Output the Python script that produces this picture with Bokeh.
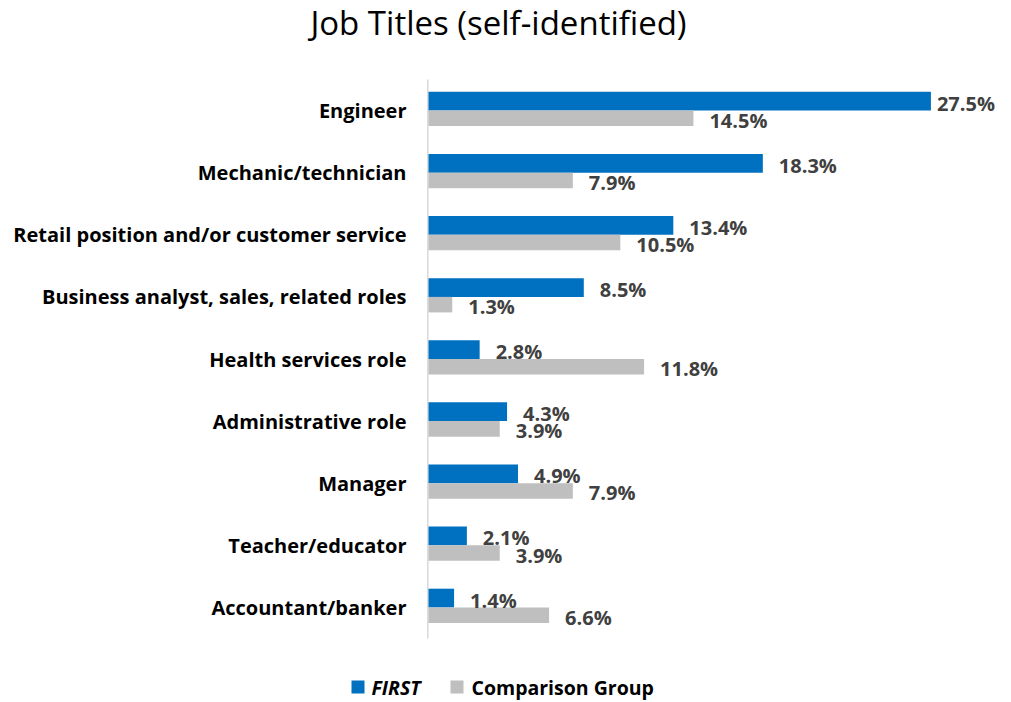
from bokeh.plotting import figure
from bokeh.models import Range1d, ColumnDataSource
from bokeh.transform import dodge
from bokeh.core.properties import value
from bokeh.embed import file_html
from bokeh.resources import INLINE

# ---- data ----
categories = [
    "Engineer",
    "Mechanic/technician",
    "Retail position and/or customer service",
    "Business analyst, sales, related roles",
    "Health services role",
    "Administrative role",
    "Manager",
    "Teacher/educator",
    "Accountant/banker",
]
first_pct = [27.5, 18.3, 13.4, 8.5, 2.8, 4.3, 4.9, 2.1, 1.4]
comparison_pct = [14.5, 7.9, 10.5, 1.3, 11.8, 3.9, 7.9, 3.9, 6.6]
series_names = ["FIRST", "Comparison Group"]
title_text = "Job Titles (self-identified)"

# ---- style / geometry ----
W, H = 1011, 702
FONT = "Open Sans"
BLUE = "#0070C0"
GRAY = "#BFBFBF"
LABEL_COLOR = "#404040"

X0_PX = 428          # pixel where 0 % lies
PX_PER_PCT = 18.27   # horizontal scale
TOP_PX, BOTTOM_PX = 79, 638   # plot-area extent
n = len(categories)
BAND_PX = (BOTTOM_PX - TOP_PX) / n


def px_to_x(px):
    return (px - X0_PX) / PX_PER_PCT


def py_to_y(py):
    return (BOTTOM_PX - py) / BAND_PX


BLUE_POS, BLUE_H = 0.151, 0.302
GRAY_POS, GRAY_H = -0.125, 0.25

src = ColumnDataSource(dict(
    cat=categories,
    pos=[n - 0.5 - i for i in range(n)],
    first=first_pct,
    comp=comparison_pct,
    first_lbl=[f"{v:.1f}%" for v in first_pct],
    comp_lbl=[f"{v:.1f}%" for v in comparison_pct],
    first_off=[6 if v > 25 else 16 for v in first_pct],
))

p = figure(width=W, height=H, x_range=Range1d(px_to_x(0), px_to_x(W)),
           y_range=Range1d(py_to_y(H), py_to_y(0)), x_axis_type=None, y_axis_type=None,
           output_backend="svg", toolbar_location=None, min_border=0)
p.grid.visible = False
p.outline_line_color = None

# axis line
p.segment(x0=[px_to_x(427.3)], y0=[0], x1=[px_to_x(427.3)], y1=[n],
          line_color="#D9D9D9", line_width=1.5)

# bars
r_blue = p.hbar(y=dodge("pos", BLUE_POS), right="first", left=0, height=BLUE_H,
                source=src, fill_color=BLUE, line_color=None)
r_gray = p.hbar(y=dodge("pos", GRAY_POS), right="comp", left=0, height=GRAY_H,
                source=src, fill_color=GRAY, line_color=None)

# data labels
p.text(x="first", y=dodge("pos", BLUE_POS), text="first_lbl", x_offset="first_off",
       y_offset=2, source=src, text_baseline="middle", text_align="left", text_font=value(FONT),
       text_font_size="20px", text_font_style="bold", text_color=LABEL_COLOR)
p.text(x="comp", y=dodge("pos", GRAY_POS), text="comp_lbl", x_offset=16,
       y_offset=2, source=src, text_baseline="middle", text_align="left", text_font=value(FONT),
       text_font_size="20px", text_font_style="bold", text_color=LABEL_COLOR)

# category labels (axis labels)
p.text(x=px_to_x(406), y="pos", text="cat", source=src, text_align="right",
       text_baseline="middle", text_font=value(FONT), text_font_size="20px",
       text_font_style="bold", text_color="#000000")

# title
p.text(x=[px_to_x(498)], y=[py_to_y(22)], text=[title_text], text_align="center",
       text_baseline="middle", text_font=value(FONT), text_font_size="33px",
       text_color="#000000")

# legend
leg_y = py_to_y(686.5)
p.rect(x=[px_to_x(357.5), px_to_x(456.5)], y=[leg_y, leg_y], width=13, height=13,
       width_units="screen", height_units="screen", fill_color=[BLUE, GRAY], line_color=None)
p.text(x=[px_to_x(371)], y=[leg_y], text=[series_names[0]], text_baseline="middle",
       text_align="left", text_font=value(FONT), text_font_size="19.5px",
       text_font_style="bold italic", text_color="#000000")
p.text(x=[px_to_x(471)], y=[leg_y], text=[series_names[1]], text_baseline="middle",
       text_align="left", text_font=value(FONT), text_font_size="19.5px",
       text_font_style="bold", text_color="#000000")

open("out.html", "w").write(file_html(p, INLINE))
